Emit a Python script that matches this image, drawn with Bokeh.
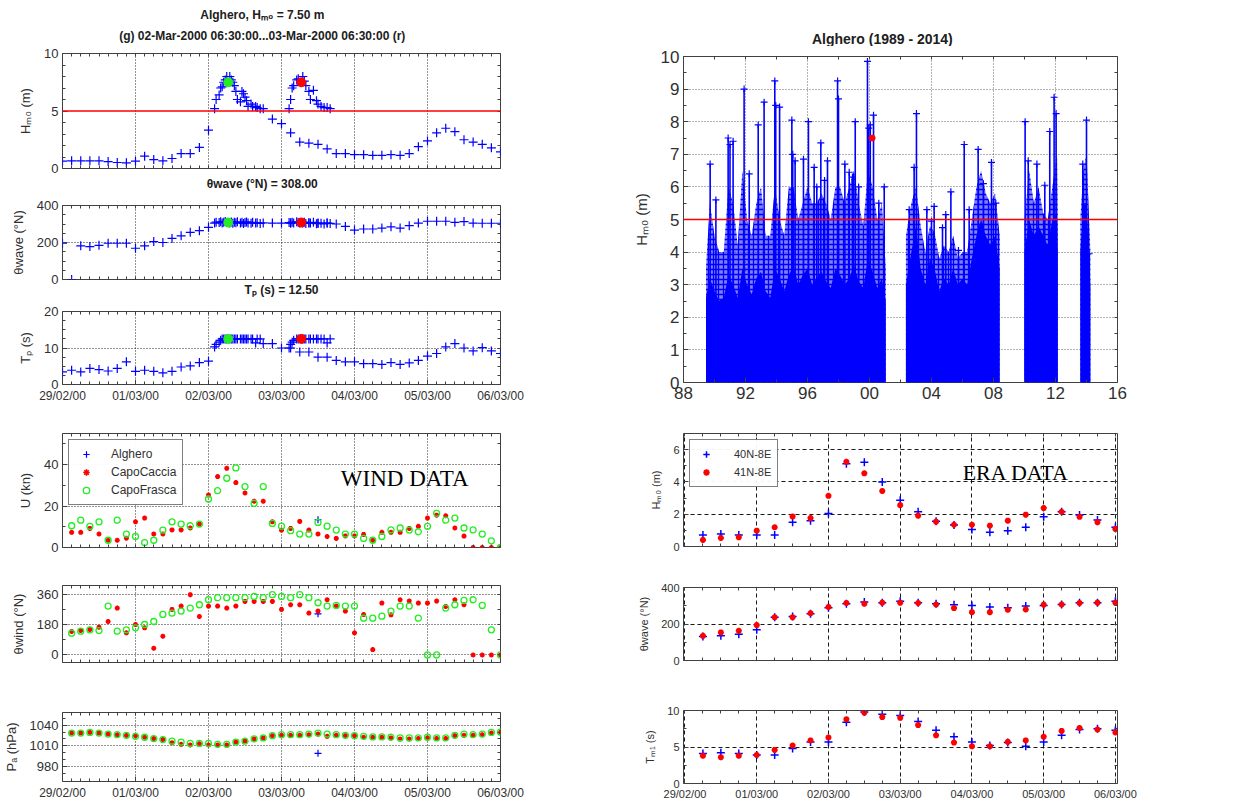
from bokeh.plotting import figure
from bokeh.models import (Range1d, FixedTicker, Span, Label, Legend, LegendItem, LinearAxis, Title)
from bokeh.layouts import row, column
from bokeh.embed import file_html
from bokeh.resources import INLINE

NaN = float("nan")
FONT = "Liberation Sans"
TXT = "#303030"

# ---------------- time axis (hours since 29-Feb-2000 00:00) ----------------
day_ticks = [0, 24, 48, 72, 96, 120, 144]
day_labels = ["29/02/00", "01/03/00", "02/03/00", "03/03/00", "04/03/00", "05/03/00", "06/03/00"]

# ---------------- buoy (Alghero) wave data ----------------
buoy_hours = [0, 3, 6, 9, 12, 15, 18, 21, 24, 27, 30, 33, 36, 39, 42, 45, 48,
              50, 50.5, 51.5, 52, 52.5, 53, 53.5, 54, 55, 55.5, 56, 56.5, 57, 57.5, 58.5, 59,
              59.5, 60, 60.5, 61, 62, 62.5, 63.5, 64, 65, 66,
              69, 72, 75, 78, 81, 84, 87, 90, 93, 96, 99, 102, 105, 108, 111, 114, 117, 120,
              123, 126, 129, 132, 135, 138, 141, 144]
buoy_hm0 = [0.64, 0.67, 0.67, 0.67, 0.67, 0.6, 0.52, 0.49, 0.64, 1.07, 0.78, 0.67, 0.87, 1.3, 1.3, 1.83, 3.33,
            5.2, 6.0, 6.4, 7.0, 7.1, 7.5, 7.7, 8.0, 8.0, 7.7, 7.5, 7.2, 6.7, 6.0, 5.8, 6.7,
            6.5, 6.2, 5.9, 5.4, 5.6, 5.4, 5.4, 5.3, 5.2, 5.2,
            4.3, 3.9, 3.1, 2.3, 2.2, 2.1, 1.7, 1.3, 1.3, 1.2, 1.2, 1.15, 1.15, 1.2, 1.15, 1.3, 1.9, 2.4,
            3.1, 3.5, 3.2, 2.5, 2.3, 2.1, 1.8, 1.45]
buoy_dir = [196, 0, 182, 178, 185, 196, 196, 196, 169, 182, 205, 200, 222, 236, 255, 264, 282,
            305, 310, 308, 312, 306, 310, 314, 308, 306, 311, 304, 309, 307, 312, 305, 309,
            303, 308, 311, 306, 304, 309, 305, 307, 303, 306,
            305, 305, 305, 305, 305, 303, 305, 300, 287, 267, 273, 273, 278, 285, 278, 291, 305, 315,
            315, 315, 309, 313, 305, 304, 304, 304]
buoy_tp = [3.45, 3.9, 3.45, 4.4, 4.1, 3.7, 4.4, 6.2, 3.6, 3.9, 3.6, 3.2, 3.6, 4.8, 5.1, 6.0, 6.4,
           10.3, 11.0, 11.6, 12.1, 12.5, 12.5, 12.5, 12.5, 12.5, 12.5, 12.5, 12.5, 12.5, 12.5, 12.5, 12.5,
           12.5, 12.5, 12.5, 12.5, 12.5, 12.5, 11.4, 12.5, 12.5, 11.2,
           11.2, 10.0, 10.0, 8.9, 8.9, 7.5, 7.5, 6.6, 6.2, 6.2, 5.7, 5.7, 5.5, 6.0, 5.5, 5.9, 6.6, 7.8,
           8.5, 10.3, 11.2, 10.0, 9.2, 10.1, 9.2, 8.5]

# second storm window (r)
storm2_hours = [74.5, 75, 75.5, 76, 77, 77.5, 79, 79.5, 80, 81, 81.5, 82.5, 83.5, 84, 85, 86, 87, 88]
storm2_hm0 = [5.2, 6.0, 7.0, 7.2, 7.7, 7.8, 8.0, 7.6, 7.2, 6.7, 6.0, 6.8, 5.9, 5.6, 5.4, 5.3, 5.3, 5.2]
storm2_dir = [308, 305, 310, 306, 312, 308, 305, 310, 303, 307, 305, 309, 302, 306, 304, 300, 305, 303]
storm2_tp = [10.0, 11.0, 11.6, 12.1, 12.5, 12.5, 12.5, 12.5, 12.5, 12.5, 12.5, 12.5, 12.5, 12.5, 12.5, 12.5, 11.4, 12.5]

# selected records: (g) 02-Mar 06:30 and (r) 03-Mar 06:30
sel_hours = [54.5, 78.5]
sel_colors = ["#22ee22", "red"]
sel_hm0 = [7.5, 7.5]
sel_dir = [308, 308]
sel_tp = [12.5, 12.5]

# ---------------- wind / pressure stations (3-hourly) ----------------
wind_hours = list(range(3, 145, 3))
wind_u_alghero = [NaN] * 27 + [13.4] + [NaN] * 20
wind_u_caccia = [7.3, 7.3, 9.2, 6.5, 3.5, 3.5, 4.5, 12.4, 14.2, 6.5,
                 6.5, 8.5, 8.5, 9.4, 11.3, 25.3, 34.2, 38.2, 31.3, 26.3,
                 22.3, 22.3, 12.4, 8.4, 9.2, 12.6, 8.4, 6.5, 5.3, 4.4,
                 5.6, 5.6, 6.3, 3.5, 7.3, 7.3, 7.3, 9.2, 10.2, 14.2,
                 15.6, 15.3, 9.4, 5.5, 0, 0, 0, 0]
wind_u_frasca = [10.5, 13.2, 10.2, 12.4, 3.5, 13.2, 6.5, 5.3, 2.4, 3.5,
                 8.4, 12.4, 11.3, 10.5, 11.3, 23.4, 27.4, 33.4, 38.4, 29.4,
                 21.3, 29.4, 11.6, 10.3, 8.1, 6.5, 6.5, 12.1, 10.3, 8.4,
                 6.5, 6.5, 4.4, 3.5, 5.3, 8.5, 9.4, 8.4, 7.6, 10.2,
                 16.5, 13.2, 14.2, 9.4, 8.5, 6.5, 3.2, 0]
wind_dir_alghero = [NaN] * 27 + [246] + [NaN] * 20
wind_dir_caccia = [140, 146, 152, 166, 200, 280, 132, 182, 162, 40,
                   112, 272, 292, 360, 230, 292, 292, 280, 292, 320,
                   320, 320, 320, 272, 300, 300, 250, 262, 330, 292,
                   262, 132, 242, 32, 310, 240, 330, 322, 310, 310,
                   322, 290, 330, 300, 0, 0, 0, 0]
wind_dir_frasca = [130, 142, 150, 146, 292, 142, 150, 162, 182, 200,
                   242, 250, 262, 280, 300, 330, 342, 342, 342, 342,
                   350, 342, 360, 350, 342, 360, 342, 312, 292, 296,
                   292, 292, 220, 220, 232, 262, 292, 292, 220, 0,
                   0, 280, 300, 326, 330, 296, 150, 0]
pa_alghero = [NaN] * 27 + [999.4] + [NaN] * 20
pa_caccia = [1028.5, 1028.5, 1029.4, 1028.5, 1027, 1026, 1025, 1024.8, 1022.5, 1020.6,
             1019.2, 1014.6, 1012.3, 1011.4, 1013.2, 1011.4, 1011.4, 1011.4, 1015.5, 1017,
             1020, 1021.5, 1024.8, 1025.2, 1025.2, 1025.2, 1026, 1027, 1023.8, 1025.2,
             1024.8, 1024.8, 1022.5, 1022.5, 1022.5, 1021.5, 1020, 1020, 1020.6, 1021.5,
             1020.6, 1020.6, 1024.8, 1025.2, 1025.2, 1026, 1028.5, 1029.4]
pa_frasca = [1028.5, 1028.5, 1029.4, 1028.5, 1027, 1026.2, 1025.2, 1023.8, 1022.5, 1020.6,
             1019.2, 1016.9, 1015.5, 1013.7, 1013.7, 1013.7, 1012.3, 1012.3, 1015.5, 1016.9,
             1020.2, 1021.5, 1024.8, 1026.2, 1026.2, 1026.2, 1027, 1028.5, 1027, 1026.2,
             1025.2, 1024.8, 1023.8, 1022.9, 1022.9, 1022.5, 1021.5, 1021.5, 1021.5, 1022.5,
             1021.5, 1021.5, 1025.2, 1027, 1026.2, 1027, 1029.4, 1029.8]

# ---------------- ERA data (6-hourly) ----------------
era_hours = list(range(6, 145, 6))
era_hm0_40 = [0.72, 0.78, 0.72, 0.72, 0.72, 1.5, 1.6, 2.05, 5.12, 5.22, 4.0, 2.87,
              2.15, 1.56, 1.33, 1.05, 0.88, 0.98, 1.19, 1.84, 2.15, 1.95, 1.64, 1.19]
era_hm0_41 = [0.41, 0.53, 0.57, 0.98, 1.19, 1.86, 1.76, 3.14, 5.25, 4.53, 3.44, 2.56,
              1.91, 1.54, 1.35, 1.35, 1.29, 1.6, 1.97, 2.38, 2.15, 1.84, 1.5, 1.09]
era_dir_40 = [131, 135, 144, 169, 237, 241, 256, 289, 311, 320, 317, 324,
              317, 311, 306, 302, 293, 289, 298, 302, 307, 317, 317, 324]
era_dir_41 = [135, 154, 163, 194, 237, 237, 259, 293, 315, 311, 317, 317,
              315, 307, 287, 265, 265, 278, 280, 306, 307, 315, 317, 317]
era_tm1_40 = [4.1, 4.2, 4.1, 3.9, 3.9, 4.8, 5.7, 5.7, 8.4, 9.8, 9.5, 9.3,
              8.5, 7.3, 6.4, 5.7, 5.2, 5.6, 5.1, 5.7, 6.6, 7.4, 7.5, 7.3]
era_tm1_41 = [3.8, 3.6, 3.8, 3.9, 4.6, 5.2, 5.9, 6.3, 8.8, 9.7, 9.1, 9.0,
              8.0, 6.6, 5.6, 5.1, 5.1, 5.7, 5.9, 6.4, 7.2, 7.6, 7.4, 7.0]

# ---------------- long-term record 1989-2014 ----------------
year_ticks = [1988, 1992, 1996, 2000, 2004, 2008, 2012, 2016]
year_labels = ["88", "92", "96", "00", "04", "08", "12", "16"]
spike_year = [1989.72, 1990.09, 1990.88, 1991.2, 1991.91, 1992.24, 1992.82, 1993.2, 1993.89, 1994.2,
              1994.99, 1995.2, 1995.74, 1996.06, 1996.43, 1996.86, 1997.29, 1997.94, 1998.41, 1998.69,
              1999.08, 1999.87, 2000.26, 2000.6, 2000.95, 2002.56, 2002.88, 2003.03, 2003.7, 2004.0,
              2004.17, 2004.71, 2004.92, 2005.25, 2005.74, 2006.11, 2006.43, 2007.01, 2007.35, 2007.87,
              2008.15, 2010.04, 2010.24, 2010.8, 2011.31, 2011.63, 2011.91, 2012.04, 2013.76, 2014.0,
              2014.17, 1991.0, 1993.95, 1995.05, 1996.6, 1997.1, 1998.0, 1998.9, 1999.3, 1999.95, 2000.05]
spike_hm0 = [6.7, 5.6, 7.5, 7.4, 9.0, 6.4, 7.9, 8.6, 9.25, 8.45,
             8.05, 6.8, 6.85, 8.0, 6.6, 7.35, 6.8, 9.25, 6.7, 6.45,
             8.0, 9.85, 8.2, 5.5, 6.0, 5.3, 6.6, 8.25, 5.3, 4.95,
             5.4, 4.75, 5.15, 5.85, 4.05, 7.3, 5.3, 7.15, 6.1, 6.75,
             5.5, 8.0, 6.8, 6.7, 6.05, 7.7, 8.75, 8.25, 6.7, 8.05,
             3.95, 7.3, 8.5, 7.0, 6.0, 6.2, 8.7, 6.3, 6.0, 7.8, 7.9]
block1_year = [1989.45, 1989.7, 1990.0, 1990.3, 1990.6, 1990.9, 1991.2, 1991.5, 1991.8, 1992.1,
               1992.4, 1992.7, 1993.0, 1993.3, 1993.6, 1993.9, 1994.2, 1994.5, 1994.8, 1995.1,
               1995.4, 1995.7, 1996.0, 1996.3, 1996.6, 1996.9, 1997.2, 1997.5, 1997.8, 1998.1,
               1998.4, 1998.7, 1999.0, 1999.3, 1999.6, 1999.9, 2000.2, 2000.5, 2000.8, 2001.05]
block1_solid = [2.6, 3.2, 2.8, 2.5, 2.6, 3.3, 3.0, 2.6, 3.5, 3.0, 2.7, 3.2, 3.4, 2.8, 2.6, 3.5, 3.2, 2.8, 3.3, 3.6,
                3.0, 3.3, 3.5, 3.0, 3.2, 3.4, 3.1, 2.9, 3.5, 3.3, 3.0, 3.2, 3.6, 3.1, 2.9, 3.8, 3.4, 2.9, 3.2, 2.5]
block1_hatch = [3.5, 5.5, 4.5, 4.0, 4.0, 6.0, 5.5, 4.2, 6.5, 5.0, 4.5, 5.5, 6.0, 4.5, 4.5, 6.0, 5.0, 4.5, 6.0, 6.0,
                5.0, 5.5, 6.0, 5.5, 5.5, 5.8, 5.5, 5.0, 6.0, 6.0, 5.5, 6.0, 6.5, 5.5, 4.8, 6.5, 6.0, 5.0, 5.5, 3.5]
block2_year = [2002.35, 2002.7, 2003.0, 2003.3, 2003.6, 2003.9, 2004.2, 2004.5, 2004.8, 2005.1, 2005.4,
               2005.7, 2006.0, 2006.3, 2006.6, 2006.9, 2007.2, 2007.5, 2007.8, 2008.1, 2008.4]
block2_solid = [3.0, 4.0, 4.8, 3.5, 3.0, 3.8, 3.5, 2.8, 3.2, 3.0, 3.5, 3.0, 3.2, 3.0, 3.8, 4.5, 5.0, 4.5, 4.2, 4.5, 3.5]
block2_hatch = [4.5, 5.5, 6.0, 4.8, 4.0, 4.8, 4.6, 3.8, 4.2, 4.0, 4.5, 3.8, 4.0, 4.0, 5.0, 6.0, 6.5, 5.8, 5.5, 5.8, 4.5]
block3_year = [2010.0, 2010.3, 2010.6, 2010.9, 2011.2, 2011.5, 2011.8, 2012.1, 2012.15]
block3_solid = [4.0, 5.0, 4.5, 4.8, 4.5, 4.2, 5.0, 5.2, 4.0]
block3_hatch = [5.0, 6.5, 5.5, 6.0, 5.2, 5.0, 6.0, 7.0, 5.0]
block4_year = [2013.6, 2013.8, 2014.0, 2014.25]
block4_solid = [4.0, 5.5, 5.5, 3.0]
block4_hatch = [5.0, 6.5, 7.0, 4.0]
event_year = [2000.17]
event_hm0 = [7.5]


# ---------------- helpers ----------------
def make_fig(w, h, ml, mr, mt, mb, xr, yr):
    p = figure(width=w, height=h, min_border_left=ml, min_border_right=mr,
               min_border_top=mt, min_border_bottom=mb,
               x_range=Range1d(*xr), y_range=Range1d(*yr), title=None, tools="",
               output_backend="svg", toolbar_location=None)
    p.outline_line_color = "#404040"
    p.outline_line_width = 1
    p.background_fill_color = "white"
    p.border_fill_color = "white"
    return p


def title_strip(w, h, cx, cy_from_bottom, text, size="12px"):
    """A frame-only strip that carries a centred bold heading (pixel coordinates)."""
    s = figure(width=w, height=h, x_range=Range1d(0, w), y_range=Range1d(0, h),
               x_axis_type=None, y_axis_type=None, title=None, tools="",
               min_border=0, output_backend="svg", toolbar_location=None)
    s.outline_line_color = None
    s.grid.visible = False
    s.background_fill_color = "white"
    s.border_fill_color = "white"
    s.add_layout(Label(x=cx, y=cy_from_bottom, text=text, text_align="center", text_baseline="middle",
                       text_font=FONT, text_font_size=size, text_font_style="bold",
                       text_color="#202020"))
    return s


def box_ticks(p, xall, yall, tick=3):
    top = LinearAxis(ticker=FixedTicker(ticks=[], minor_ticks=xall))
    right = LinearAxis(ticker=FixedTicker(ticks=[], minor_ticks=yall))
    for ax in (top, right):
        ax.axis_line_color = None
        ax.minor_tick_in = tick
        ax.minor_tick_out = 0
        ax.major_tick_in = 0
        ax.major_tick_out = 0
        ax.minor_tick_line_color = "#404040"
    p.add_layout(top, "above")
    p.add_layout(right, "right")


def style(p, xt, xm, yt, ym, ylabel, xlabels=None, dash="1 2",
          tick_font="13px", x_font="12px", label_font="13px", grid_alpha=0.85):
    if xlabels is not None:
        p.xaxis[0].ticker = FixedTicker(ticks=xt, minor_ticks=xm)
        p.xaxis[0].major_label_overrides = {t: l for t, l in zip(xt, xlabels)}
        p.xaxis[0].major_label_text_font_size = x_font
    else:
        # no labelled ticks: every tick mark drawn as an (unlabelled) minor tick
        p.xaxis[0].ticker = FixedTicker(ticks=[], minor_ticks=sorted(set(xt) | set(xm)))
    p.yaxis[0].ticker = FixedTicker(ticks=yt, minor_ticks=ym)
    p.xgrid[0].ticker = FixedTicker(ticks=xt)
    p.ygrid[0].ticker = FixedTicker(ticks=yt)
    for g in (p.xgrid[0], p.ygrid[0]):
        g.grid_line_color = "black"
        g.grid_line_dash = dash
        g.grid_line_width = 1
        g.grid_line_alpha = grid_alpha
    for ax in (p.xaxis[0], p.yaxis[0]):
        ax.axis_line_color = None
        ax.major_tick_in = 5
        ax.major_tick_out = 0
        ax.minor_tick_in = 3
        ax.minor_tick_out = 0
        ax.major_tick_line_color = "#404040"
        ax.minor_tick_line_color = "#404040"
        ax.major_label_text_font = FONT
        ax.major_label_text_color = TXT
        ax.major_label_standoff = 4
    p.yaxis[0].major_label_text_font_size = tick_font
    p.yaxis[0].axis_label = ylabel
    p.yaxis[0].axis_label_text_font = FONT
    p.yaxis[0].axis_label_text_font_size = label_font
    p.yaxis[0].axis_label_text_font_style = "normal"
    p.yaxis[0].axis_label_text_color = TXT
    p.yaxis[0].axis_label_standoff = 8
    box_ticks(p, sorted(set(xt) | set(xm)), sorted(set(yt) | set(ym)))


minor3h = [h for h in range(0, 145, 3) if h % 24]
minor6h = [h for h in range(0, 145, 6) if h % 24]

LW, LML, LMR = 615, 61, 115
RW, RML, RMR = 622, 66, 120
LCX = LML + 439 / 2          # centre of the left frames
RCX = 68 + 434 / 2           # centre of the long-record frame


def plus(p, x, y, size=9):
    return p.scatter(x, y, marker="cross", size=size, line_color="blue", line_width=1.2)


# ---------------- left column ----------------
s1 = title_strip(LW, 24, LCX, 10, "Alghero, Hₘ₀ = 7.50 m")
s2 = title_strip(LW, 20, LCX, 9, "(g) 02-Mar-2000 06:30:00...03-Mar-2000 06:30:00 (r)")

p1 = make_fig(LW, 132, LML, LMR, 9, 8, (0, 144), (0, 10))
style(p1, day_ticks, minor3h, [0, 5, 10], [1, 2, 3, 4, 6, 7, 8, 9], "Hₘ₀ (m)")
p1.ygrid[0].visible = False
p1.add_layout(Span(location=5, dimension="width", line_color="red", line_width=1.5))
plus(p1, buoy_hours, buoy_hm0)
plus(p1, storm2_hours, storm2_hm0)
p1.scatter(sel_hours, sel_hm0, marker="circle", size=9, color=sel_colors)

s3 = title_strip(LW, 18, LCX, 11, "θwave (°N) = 308.00")

# frame 205..279, the Tp heading is carried underneath it
p2 = make_fig(LW, 106, LML, LMR, 11, 21, (0, 144), (0, 400))
style(p2, day_ticks, minor3h, [0, 200, 400], [50, 100, 150, 250, 300, 350], "θwave (°N)")
plus(p2, buoy_hours, buoy_dir)
plus(p2, storm2_hours, storm2_dir)
p2.scatter(sel_hours, sel_dir, marker="circle", size=9, color=sel_colors)
p2.add_layout(Title(text="Tₚ (s) = 12.50", align="center", text_font=FONT, text_font_size="12px",
                    text_font_style="bold", text_color="#202020", standoff=3), "below")

p3 = make_fig(LW, 115, LML, LMR, 11, 31, (0, 144), (0, 20))
style(p3, day_ticks, minor3h, [0, 10, 20], [2.5, 5, 7.5, 12.5, 15, 17.5], "Tₚ (s)", xlabels=day_labels)
plus(p3, buoy_hours, buoy_tp)
plus(p3, storm2_hours, storm2_tp)
p3.scatter(sel_hours, sel_tp, marker="circle", size=9, color=sel_colors)


def station_marks(p, ya, yc, yf):
    ra = p.scatter(wind_hours, ya, marker="cross", size=7, line_color="blue", line_width=1.2)
    rc = p.scatter(wind_hours, yc, marker="asterisk", size=5, line_color="red", line_width=1.6)
    rf = p.scatter(wind_hours, yf, marker="circle", size=6, fill_color=None, line_color="#22ee22", line_width=1.3)
    return ra, rc, rf


p4 = make_fig(LW, 155, LML, LMR, 18, 23, (0, 144), (0, 55))
style(p4, day_ticks, minor3h, [0, 20, 40], [10, 30, 50], "U (kn)")
ra, rc, rf = station_marks(p4, wind_u_alghero, wind_u_caccia, wind_u_frasca)
leg = Legend(items=[LegendItem(label="Alghero", renderers=[ra]),
                    LegendItem(label="CapoCaccia", renderers=[rc]),
                    LegendItem(label="CapoFrasca", renderers=[rf])], location="top_left")
leg.border_line_color = "black"
leg.border_line_width = 1
leg.label_text_font = FONT
leg.label_text_font_size = "12px"
leg.label_text_color = TXT
leg.glyph_width = 22
leg.glyph_height = 16
leg.spacing = 2
leg.padding = 6
leg.margin = 6
leg.label_standoff = 14
p4.add_layout(leg)
p4.add_layout(Label(x=91.5, y=33.3, text="WIND DATA", text_font="Liberation Serif",
                    text_font_size="23px", text_color="black", text_baseline="middle"))

p5 = make_fig(LW, 125, LML, LMR, 15, 33, (0, 144), (-45, 415))
style(p5, day_ticks, minor3h, [0, 180, 360], [90, 270], "θwind (°N)")
station_marks(p5, wind_dir_alghero, wind_dir_caccia, wind_dir_frasca)

p6 = make_fig(LW, 107, LML, LMR, 17, 19, (0, 144), (959, 1058))
style(p6, day_ticks, minor3h, [980, 1010, 1040], [970, 990, 1000, 1020, 1030, 1050], "Pₐ (hPa)",
      xlabels=day_labels)
station_marks(p6, pa_alghero, pa_caccia, pa_frasca)

# ---------------- right column ----------------
t1 = title_strip(RW, 46, RCX, 8, "Alghero (1989 - 2014)", size="14px")

q1 = make_fig(RW, 369, 68, 120, 10, 33, (1988, 2016), (0, 10))
style(q1, year_ticks, [1990, 1994, 1998, 2002, 2006, 2010, 2014], list(range(0, 11)),
      [x + 0.5 for x in range(0, 10)], "Hₘ₀ (m)", xlabels=year_labels,
      tick_font="17px", x_font="17px", label_font="15px", grid_alpha=0.6)
for yrs, hat, sol in ((block1_year, block1_hatch, block1_solid),
                      (block2_year, block2_hatch, block2_solid),
                      (block3_year, block3_hatch, block3_solid),
                      (block4_year, block4_hatch, block4_solid)):
    q1.varea(x=yrs, y1=0, y2=hat, fill_color="blue", fill_alpha=0.5,
             hatch_pattern="+", hatch_color="blue", hatch_scale=5, hatch_weight=1.3, hatch_alpha=1.0)
    q1.varea(x=yrs, y1=0, y2=sol, fill_color="blue", fill_alpha=1.0)
q1.segment(x0=spike_year, y0=0, x1=spike_year, y1=spike_hm0, line_color="blue", line_width=1.6)
q1.scatter(spike_year, spike_hm0, marker="cross", size=7, line_color="blue", line_width=1.2)
q1.add_layout(Span(location=5, dimension="width", line_color="red", line_width=1.5))
q1.scatter(event_year, event_hm0, marker="circle", size=6, color="red")


def era_marks(p, y40, y41):
    r40 = p.scatter(era_hours, y40, marker="cross", size=8, line_color="blue", line_width=1.5)
    r41 = p.scatter(era_hours, y41, marker="asterisk", size=6, line_color="red", line_width=2.0)
    return r40, r41


q2 = make_fig(RW, 155, RML, RMR, 18, 24, (-0.5, 144.7), (0, 7))
style(q2, day_ticks, minor6h, [0, 2, 4, 6], [1, 3, 5], "Hₘ₀ (m)", dash="4 3",
      tick_font="11px", label_font="11px", grid_alpha=0.9)
r40, r41 = era_marks(q2, era_hm0_40, era_hm0_41)
leg2 = Legend(items=[LegendItem(label="40N-8E", renderers=[r40]),
                     LegendItem(label="41N-8E", renderers=[r41])], location="top_left")
leg2.border_line_color = "black"
leg2.border_line_width = 1
leg2.label_text_font = FONT
leg2.label_text_font_size = "11px"
leg2.label_text_color = TXT
leg2.glyph_width = 20
leg2.glyph_height = 16
leg2.spacing = 2
leg2.padding = 6
leg2.margin = 6
leg2.label_standoff = 18
q2.add_layout(leg2)
q2.add_layout(Label(x=92.9, y=4.58, text="ERA DATA", text_font="Liberation Serif",
                    text_font_size="22px", text_color="black", text_baseline="middle"))

q3 = make_fig(RW, 125, RML, RMR, 17, 35, (-0.5, 144.7), (0, 400))
style(q3, day_ticks, minor6h, [0, 200, 400], [100, 300], "θwave (°N)", dash="4 3",
      tick_font="11px", label_font="11px", grid_alpha=0.9)
era_marks(q3, era_dir_40, era_dir_41)

q4 = make_fig(RW, 107, RML, RMR, 15, 19, (-0.5, 144.7), (0, 10))
style(q4, day_ticks, minor6h, [0, 5, 10], [2.5, 7.5], "Tₘ₁ (s)", xlabels=day_labels, dash="4 3",
      tick_font="11px", x_font="11px", label_font="11px", grid_alpha=0.9)
era_marks(q4, era_tm1_40, era_tm1_41)

layout = row(column(s1, s2, p1, s3, p2, p3, p4, p5, p6), column(t1, q1, q2, q3, q4))

open("out.html", "w").write(file_html(layout, INLINE))
